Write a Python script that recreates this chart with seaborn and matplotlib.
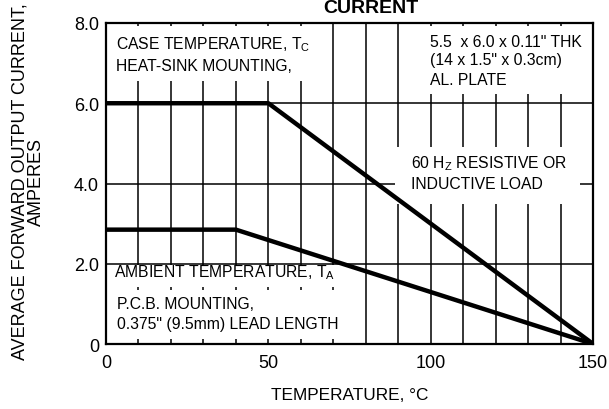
import matplotlib
matplotlib.use("Agg")
import matplotlib.pyplot as plt
import seaborn as sns
import pandas as pd

sns.set_theme(style="white")
plt.rcParams['font.family'] = ['Liberation Sans', 'DejaVu Sans']
plt.rcParams['text.color'] = 'black'
plt.rcParams['axes.labelcolor'] = 'black'
plt.rcParams['xtick.color'] = 'black'
plt.rcParams['ytick.color'] = 'black'

case_temp = [0, 50, 150]
case_current = [6.0, 6.0, 0.0]
amb_temp = [0, 40, 150]
amb_current = [2.85, 2.85, 0.0]

xticks = [0, 50, 100, 150]
xticklabels = ["0", "50", "100", "150"]
yticks = [0, 2, 4, 6, 8]
yticklabels = ["0", "2.0", "4.0", "6.0", "8.0"]

df = pd.concat([
    pd.DataFrame({"T": case_temp, "I": case_current, "s": "case"}),
    pd.DataFrame({"T": amb_temp, "I": amb_current, "s": "amb"}),
])

fig = plt.figure(figsize=(6.09, 4.10), dpi=100)
ax = fig.add_axes([0.174, 0.1585, 0.8, 0.783])

ax.set_xlim(0, 150)
ax.set_ylim(0, 8)
ax.set_xticks(range(0, 151, 10), minor=True)
ax.set_xticks(xticks)
ax.set_xticklabels(xticklabels, fontsize=13)
ax.set_yticks(yticks)
ax.set_yticklabels(yticklabels, fontsize=13)
ax.grid(True, which="both", axis="x", color="black", linewidth=1.1, zorder=0)
ax.grid(True, which="major", axis="y", color="black", linewidth=1.1, zorder=0)
ax.tick_params(which="both", length=0, colors="black")
ax.tick_params(axis="x", pad=7)
ax.tick_params(axis="y", pad=5)
for sp in ax.spines.values():
    sp.set_color("black")
    sp.set_linewidth(1.6)

sns.lineplot(data=df, x="T", y="I", units="s", estimator=None, color="black",
             linewidth=3.2, ax=ax, zorder=3, sort=False)

# white masking boxes with labels
def box(x0, y0, x1, y1):
    ax.add_patch(plt.Rectangle((x0, y0), x1 - x0, y1 - y0, facecolor="white",
                               edgecolor="none", zorder=2))

box(0.4, 6.55, 65, 7.93)
box(91, 6.23, 149.6, 7.93)
box(89, 3.5, 146, 4.9)
box(0.4, 1.42, 77, 1.96)
box(0.4, 0.12, 77, 1.34)

fs = 11.3
kw = dict(fontsize=fs, va="center", zorder=4, color="black")
ax.text(3.1, 7.48, "CASE TEMPERATURE, T$_{\\mathregular{C}}$", **kw)
ax.text(3.1, 6.93, "HEAT-SINK MOUNTING,", **kw)
ax.text(99.8, 7.55, "5.5  x 6.0 x 0.11\" THK", **kw)
ax.text(99.8, 7.08, "(14 x 1.5\" x 0.3cm)", **kw)
ax.text(99.8, 6.6, "AL. PLATE", **kw)
ax.text(94, 4.51, "60 H$_{\\mathregular{Z}}$ RESISTIVE OR", **kw)
ax.text(94, 4.01, "INDUCTIVE LOAD", **kw)
ax.text(2.5, 1.8, "AMBIENT TEMPERATURE, T$_{\\mathregular{A}}$", **kw)
ax.text(3.4, 1.02, "P.C.B. MOUNTING,", **kw)
ax.text(3.4, 0.52, "0.375\" (9.5mm) LEAD LENGTH", **kw)

ax.set_xlabel("TEMPERATURE, °C", fontsize=12.4)
ax.xaxis.set_label_coords(0.5, -0.135)
ax.set_ylabel("AVERAGE FORWARD OUTPUT CURRENT,\nAMPERES", fontsize=13, linespacing=0.93)
ax.yaxis.set_label_coords(-0.126, 0.508)
fig.text(0.609, 0.98, "CURRENT", fontsize=14, fontweight="bold", ha="center", va="center")

fig.savefig("out.png", dpi=100)
